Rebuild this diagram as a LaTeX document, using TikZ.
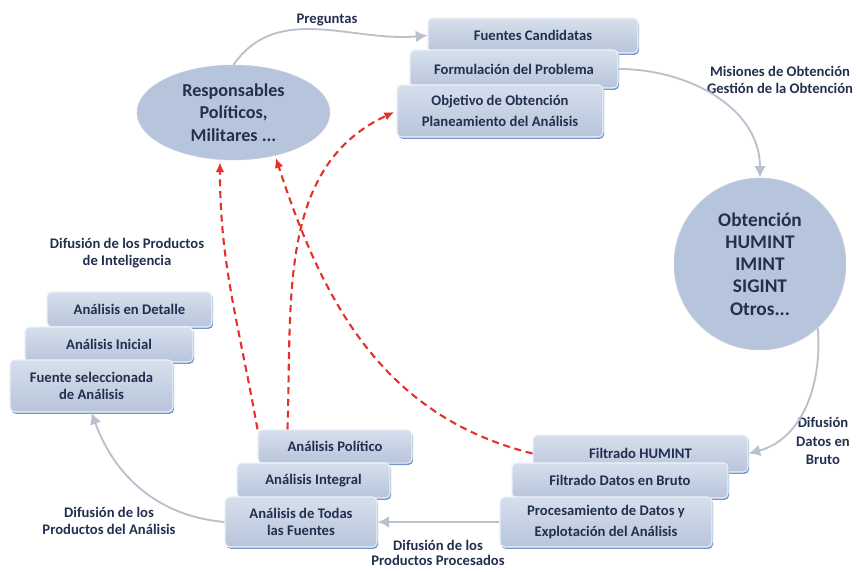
\documentclass[tikz,border=0pt]{standalone}
\usepackage{fontspec}
\setmainfont{Carlito}
\usetikzlibrary{arrows.meta,shapes.geometric,shadows}
\definecolor{boxtop}{HTML}{D6DFEC}
\definecolor{boxbottom}{HTML}{B7C5DB}
\definecolor{boxline}{HTML}{EEF2F8}
\definecolor{boxshade}{HTML}{5C86C6}
\definecolor{bubble}{HTML}{B7C5DC}
\definecolor{inktext}{HTML}{22304F}
\definecolor{flowgrey}{HTML}{B9C1CD}
\definecolor{alertred}{HTML}{E4312A}

\begin{document}
\begin{tikzpicture}[x=0.03cm,y=0.03cm,
    stackbox/.style={draw=boxline,line width=0.9pt,rounded corners=4pt,top color=boxtop,bottom color=boxbottom,
      drop shadow={shadow xshift=1pt,shadow yshift=-1.6pt,fill=boxshade,opacity=0.85},
      text=inktext,font=\fontsize{12.5}{14.5}\selectfont\bfseries,align=center,inner sep=2pt},
    bubbletext/.style={fill=bubble,draw=bubble!85!white,text=inktext,font=\fontsize{15.5}{19}\selectfont\bfseries,align=center,inner sep=0pt},
    flowlabel/.style={text=inktext,font=\fontsize{12.5}{14.5}\selectfont\bfseries,align=center},
    flow/.style={-{Latex[length=3.5mm,width=3.5mm]},flowgrey,line width=1.6pt},
    feedback/.style={-{Latex[length=3mm,width=2.6mm]},alertred,line width=1.8pt,dash pattern=on 6pt off 4pt,shorten >=2pt}]
    \useasboundingbox (0,0) rectangle (857,572);
    \node[bubbletext,ellipse,minimum width=5.79cm,minimum height=2.85cm] (resp) at (233.5,459.5)
      {Responsables\\Políticos,\\Militares ...};
    \node[bubbletext,circle,minimum size=5.16cm,font=\fontsize{16.5}{19}\selectfont\bfseries] (obt) at (760,308)
      {Obtención\\HUMINT\\IMINT\\SIGINT\\Otros...};
    \node[stackbox,minimum width=6.3cm,minimum height=1.05cm] (cand) at (533,536.5) {Fuentes Candidatas};
    \node[stackbox,minimum width=6.24cm,minimum height=1.14cm] (form) at (514,503) {Formulación del Problema};
    \node[stackbox,minimum width=6.18cm,minimum height=1.56cm] (objt) at (500,461)
      {Objetivo de Obtención\\[4pt]Planeamiento del Análisis};
    \node[stackbox,minimum width=4.95cm,minimum height=1.05cm] (detalle) at (129.5,262.5) {Análisis en Detalle};
    \node[stackbox,minimum width=5.04cm,minimum height=1.05cm] (inicial) at (109,227.5) {Análisis Inicial};
    \node[stackbox,minimum width=4.89cm,minimum height=1.56cm] (fuente) at (91.5,186)
      {Fuente seleccionada\\de Análisis};
    \node[stackbox,minimum width=4.62cm,minimum height=1.0cm] (politico) at (335,125.5) {Análisis Político};
    \node[stackbox,minimum width=4.59cm,minimum height=1.05cm] (integral) at (313.5,91.5) {Análisis Integral};
    \node[stackbox,minimum width=4.56cm,minimum height=1.5cm] (todas) at (301,50) {Análisis de Todas\\las Fuentes};
    \node[stackbox,minimum width=6.45cm,minimum height=1.11cm] (humint) at (640.5,118.5) {Filtrado HUMINT};
    \node[stackbox,minimum width=6.48cm,minimum height=1.05cm] (bruto) at (620,91.5) {Filtrado Datos en Bruto};
    \node[stackbox,minimum width=6.36cm,minimum height=1.5cm] (proc) at (606,50)
      {Procesamiento de Datos y\\[4pt]Explotación del Análisis};
    \node[flowlabel] (lpreg) at (327,552) {Preguntas};
    \node[flowlabel] (lmis) at (780,492) {Misiones de Obtención\\Gestión de la Obtención};
    \node[flowlabel,font=\fontsize{12.5}{16}\selectfont\bfseries] (ldatos) at (823,131) {Difusión\\Datos en\\Bruto};
    \node[flowlabel] (lintel) at (127,319) {Difusión de los Productos\\de Inteligencia};
    \node[flowlabel] (lanal) at (109,51) {Difusión de los\\Productos del Análisis};
    \node[flowlabel,font=\fontsize{12.5}{13.5}\selectfont\bfseries] (lproc) at (438,19) {Difusión de los\\Productos Procesados};
    \coordinate (polfoot) at ([xshift=0.9cm]politico.north west);
    \draw[flow] (resp.north) to[out=55,in=185] (cand.west);
    \draw[flow] (form.east) to[out=0,in=90] (obt.north);
    \draw[flow] (obt.-48) to[out=-85,in=15] (humint.east);
    \draw[flow] (proc.west) -- (todas.east);
    \draw[flow] (todas.west) to[out=175,in=-70] (fuente.south);
    \draw[feedback] (politico.north west) to[out=100,in=-90] (resp.-106);
    \draw[feedback] (polfoot) to[out=88,in=205] (objt.west);
    \draw[feedback] (humint.west) to[out=166,in=-72] (resp.-46);
  \end{tikzpicture}
\end{document}
